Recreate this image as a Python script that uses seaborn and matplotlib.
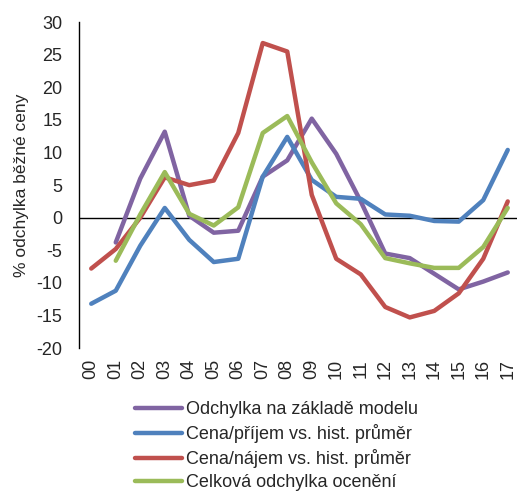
import numpy as np
import pandas as pd
import matplotlib
matplotlib.use("Agg")
import matplotlib.pyplot as plt
import seaborn as sns

years = ["00", "01", "02", "03", "04", "05", "06", "07", "08", "09",
         "10", "11", "12", "13", "14", "15", "16", "17"]

# Odchylka na zakladе modelu (no value for 00)
model = [np.nan, -3.8, 6.0, 13.2, 0.3, -2.3, -2.0, 6.3, 8.8, 15.2,
         9.8, 2.5, -5.5, -6.2, -8.6, -11.0, -9.8, -8.4]
price_income = [-13.2, -11.2, -4.3, 1.5, -3.4, -6.8, -6.3, 6.3, 12.4, 5.8,
                3.2, 2.9, 0.5, 0.3, -0.5, -0.6, 2.7, 10.4]
price_rent = [-7.8, -4.8, 0.0, 6.2, 5.0, 5.7, 13.0, 26.8, 25.5, 3.5,
              -6.3, -8.7, -13.7, -15.3, -14.3, -11.6, -6.3, 2.5]
total = [np.nan, -6.6, 0.5, 7.0, 0.6, -1.2, 1.6, 13.0, 15.6, 8.5,
         2.2, -1.0, -6.2, -7.0, -7.7, -7.7, -4.5, 1.5]

series_names = ["Odchylka na základě modelu", "Cena/příjem vs. hist. průměr",
                "Cena/nájem vs. hist. průměr", "Celková odchylka ocenění"]
colors = ["#8064A2", "#4F81BD", "#C0504D", "#9BBB59"]

sns.set_style("white")
plt.rcParams['font.family'] = ['Liberation Sans', 'DejaVu Sans']
plt.rcParams['axes.unicode_minus'] = False

df = pd.DataFrame({"x": np.arange(len(years))})
for name, vals in zip(series_names, [model, price_income, price_rent, total]):
    df[name] = vals
long = df.melt(id_vars="x", var_name="serie", value_name="val").dropna()

fig = plt.figure(figsize=(5.17, 4.93), dpi=100)
ax = fig.add_axes([0.1528, 0.294, 0.853, 0.661])

sns.lineplot(data=long, x="x", y="val", hue="serie", hue_order=series_names,
             palette=colors, linewidth=3.2, ax=ax, legend=True)

ax.axhline(0, color="black", linewidth=1, zorder=0)
ax.set_xlim(-0.5, len(years) - 0.5)
ax.set_ylim(-20, 30)
ax.set_yticks(range(-20, 31, 5))
ax.set_xticks(range(len(years)))
ax.set_xticklabels(years, rotation=90)
ax.tick_params(axis="both", length=0, labelsize=13)
ax.tick_params(axis="x", pad=8)
ax.tick_params(axis="y", pad=12)
ax.set_xlabel("")
ax.set_ylabel("% odchylka běžné ceny", fontsize=12.5, labelpad=5)

for s in ["top", "right", "bottom"]:
    ax.spines[s].set_visible(False)
ax.spines["left"].set_color("black")
ax.spines["left"].set_linewidth(1)

handles, labels = ax.get_legend_handles_labels()
ax.get_legend().remove()
fig.legend(handles, labels, loc="upper left", bbox_to_anchor=(0.261, 0.186),
           frameon=False, fontsize=13, handlelength=2.6, handletextpad=0.25,
           labelspacing=0.33, borderpad=0, borderaxespad=0)

fig.savefig("out.png", dpi=100)
